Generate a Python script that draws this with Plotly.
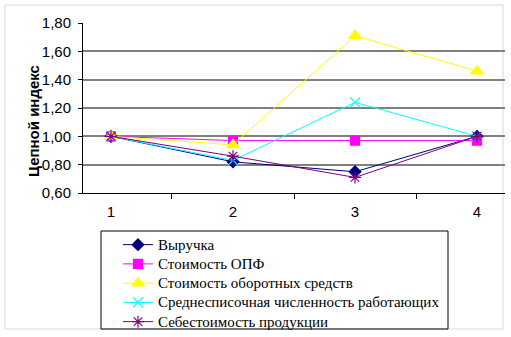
import plotly.graph_objects as go

categories = ["1", "2", "3", "4"]
revenue = [1.00, 0.82, 0.75, 1.00]
opf_cost = [1.00, 0.97, 0.97, 0.97]
working_capital = [1.00, 0.94, 1.71, 1.46]
headcount = [1.00, 0.83, 1.24, 1.00]
cost_price = [1.00, 0.86, 0.71, 1.00]

series = [
    ("Выручка", revenue, "#000080", "diamond", 9),
    ("Стоимость ОПФ", opf_cost, "#FF00FF", "square", 9),
    ("Стоимость оборотных средств", working_capital, "#FFFF00", "triangle-up", 11),
    ("Среднесписочная численность работающих", headcount, "#00FFFF", "x-thin-open", 10),
    ("Себестоимость продукции", cost_price, "#800080", "asterisk-open", 10),
]

fig = go.Figure()
for name, vals, color, sym, size in series:
    fig.add_trace(go.Scatter(
        x=categories, y=vals,
        name='<span style="font-size:15px">' + name + '</span>',
        mode="lines+markers",
        line=dict(color=color, width=1),
        marker=dict(symbol=sym, size=size, color=color, line=dict(color=color, width=1.2)),
    ))

W, H = 511, 337
L, R, T, B = 83, 6, 23, 144
pw, ph = W - L - R, H - T - B

def px_x(x):
    return (x - L) / pw

def px_y(y):
    return (H - B - y) / ph

fig.update_layout(
    width=W, height=H,
    margin=dict(l=L, r=R, t=T, b=B, autoexpand=False),
    paper_bgcolor="white", plot_bgcolor="white",
    separators=", ",
    font=dict(family="Arial, Liberation Sans", size=15, color="black"),
    showlegend=True,
    legend=dict(
        xref="container", yref="container",
        x=118 / W, y=1 - 230 / H, xanchor="left", yanchor="top",
        borderwidth=0,
        font=dict(family="Liberation Serif, Times New Roman", size=12.5, color="black"),
        tracegroupgap=0, itemwidth=30, bgcolor="rgba(0,0,0,0)",
    ),
    xaxis=dict(
        type="category", tickson="boundaries", ticks="outside", ticklen=5,
        tickcolor="black", showline=True, linecolor="black", linewidth=1,
        showgrid=False, zeroline=False, tickfont=dict(size=15),
        ticklabelstandoff=5,
    ),
    yaxis=dict(
        range=[0.6, 1.8], dtick=0.2, tick0=0.6, tickformat=".2f",
        ticks="outside", ticklen=4, tickcolor="black",
        showline=True, linecolor="black", linewidth=1,
        showgrid=True, gridcolor="#808080", gridwidth=1.5,
        zeroline=False, tickfont=dict(size=15), ticklabelstandoff=4,
    ),
    shapes=[
        dict(
            type="rect", xref="paper", yref="paper", layer="below",
            x0=px_x(5), x1=px_x(503), y0=px_y(329), y1=px_y(5),
            line=dict(color="#d9d9d9", width=1),
        ),
        dict(
            type="rect", xref="paper", yref="paper", layer="above",
            x0=px_x(101), x1=px_x(448), y0=px_y(329), y1=px_y(231),
            line=dict(color="black", width=1),
        ),
    ],
    annotations=[dict(
        text="<b>Цепной индекс</b>", textangle=-90,
        xref="paper", yref="paper", x=px_x(34), y=px_y(121),
        xanchor="center", yanchor="middle", showarrow=False,
        font=dict(family="Arial, Liberation Sans", size=15, color="black"),
    )],
)

fig.write_html("out.html")
